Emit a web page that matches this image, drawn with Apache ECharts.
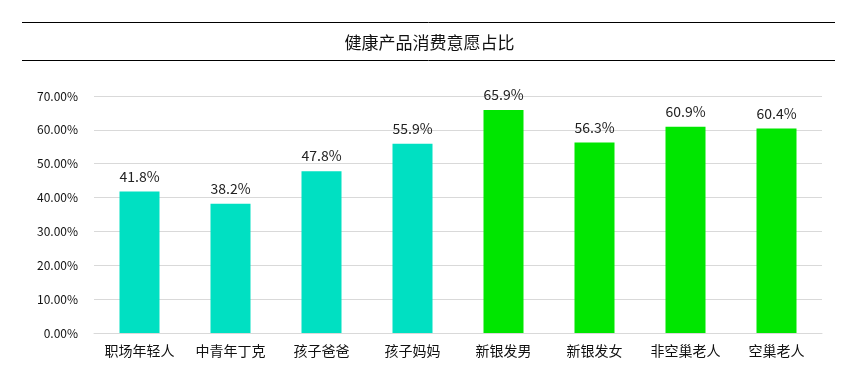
<!DOCTYPE html>
<html><head><meta charset="utf-8">
<script src="https://cdn.jsdelivr.net/npm/echarts@6/dist/echarts.min.js"></script>
<style>html,body{margin:0;padding:0;background:#fff}#c{width:859px;height:382px}</style>
</head><body><div id="c"></div>
<script>
const title = '健康产品消费意愿占比';
const categories = ['职场年轻人','中青年丁克','孩子爸爸','孩子妈妈','新银发男','新银发女','非空巢老人','空巢老人'];
const values = [41.8, 38.2, 47.8, 55.9, 65.9, 56.3, 60.9, 60.4];
const yTicks = [0, 10, 20, 30, 40, 50, 60, 70];

const font = '"Noto Sans CJK SC","Noto Sans",sans-serif';
const chart = echarts.init(document.getElementById('c'));
chart.setOption({
  animation: false,
  backgroundColor: '#fff',
  title: {text: title, left: 'center', top: 29, textStyle: {fontFamily: font, fontSize: 17, fontWeight: 'normal', color: '#111'}},
  graphic: [
    {type: 'line', shape: {x1: 22, y1: 22.5, x2: 835, y2: 22.5}, style: {stroke: '#000', lineWidth: 1}},
    {type: 'line', shape: {x1: 22, y1: 60.5, x2: 835, y2: 60.5}, style: {stroke: '#000', lineWidth: 1}}
  ],
  grid: {left: 94, right: 37, top: 96, bottom: 49},
  xAxis: {
    type: 'category', data: categories,
    axisLine: {lineStyle: {color: '#d9d9d9'}},
    axisTick: {show: false},
    axisLabel: {fontFamily: font, fontSize: 14, color: '#111', margin: 11}
  },
  yAxis: {
    type: 'value', min: yTicks[0], max: yTicks[yTicks.length - 1], interval: 10,
    axisLine: {show: false}, axisTick: {show: false},
    splitLine: {lineStyle: {color: '#d9d9d9'}},
    axisLabel: {fontFamily: font, fontSize: 12, color: '#111', margin: 16,
      formatter: v => v.toFixed(2) + '%'}
  },
  series: [{
    type: 'bar', barWidth: 40,
    data: values.map((v, i) => ({value: v, itemStyle: {color: i < 4 ? '#00e0c2' : '#00e600'}})),
    label: {show: true, position: 'top', distance: 8, fontFamily: font, fontSize: 14, color: '#222',
      formatter: p => p.value.toFixed(1) + '%'}
  }]
});
</script></body></html>
